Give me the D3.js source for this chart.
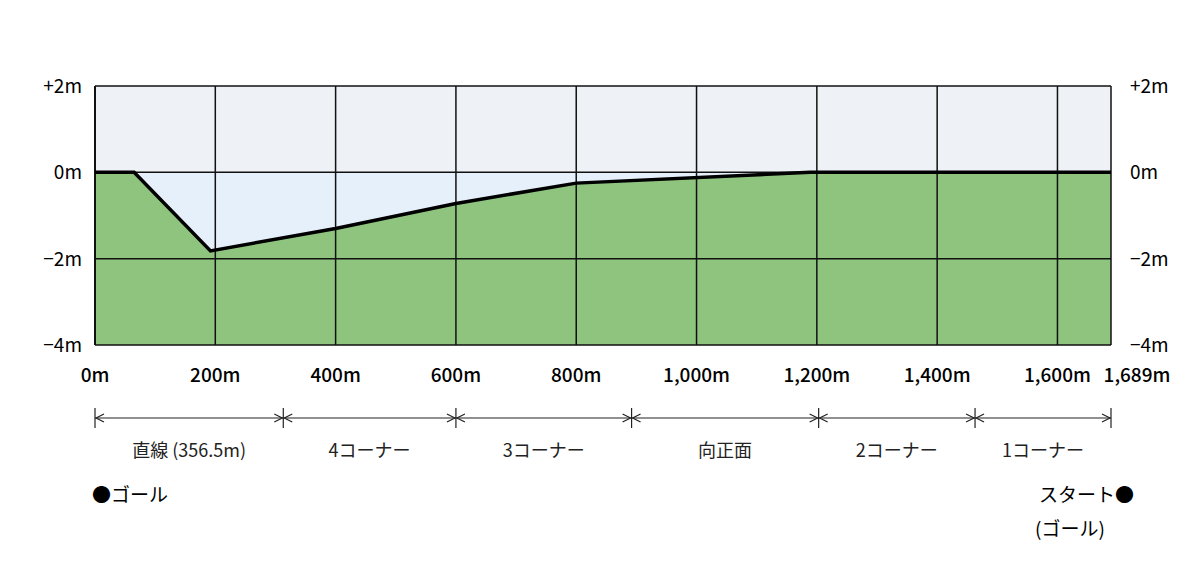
<!DOCTYPE html><html><head><meta charset="utf-8"><script src="https://cdn.jsdelivr.net/npm/d3@7"></script>
<style>body{margin:0;background:#fff}text{font-family:"Noto Sans CJK JP","Liberation Sans",sans-serif}</style></head><body><svg width="1200" height="587"></svg><script>
const profileDist=[0,65,192,400,600,800,1189,1689];
const profileElev=[0,0,-1.82,-1.3,-0.72,-0.25,0,0];
const xTicks=[0,200,400,600,800,1000,1200,1400,1600,1689];
const xTickLabels=["0m","200m","400m","600m","800m","1,000m","1,200m","1,400m","1,600m","1,689m"];
const yTicks=[2,0,-2,-4];
const yTickLabels=["+2m","0m","−2m","−4m"];
const sectionBounds=[0,313,600,892,1203,1463,1689];
const sectionLabels=["直線 (356.5m)","4コーナー","3コーナー","向正面","2コーナー","1コーナー"];
const svg=d3.select("svg");
const x=d3.scaleLinear().domain([0,1689]).range([95,1111]);
const y=d3.scaleLinear().domain([2,-4]).range([86,345]);
svg.append("rect").attr("x",95).attr("y",86).attr("width",1016).attr("height",259).attr("fill","#eef1f5");
svg.append("rect").attr("x",95).attr("y",y(0)).attr("width",1016).attr("height",y(-2)-y(0)).attr("fill","#e6f0fb");
const pts=profileDist.map((d,i)=>[d,profileElev[i]]);
svg.append("path").datum(pts).attr("fill","#8fc47f").attr("d",d3.area().x(d=>x(d[0])).y0(y(-4)).y1(d=>y(d[1])));
const g=svg.append("g");
xTicks.forEach(t=>g.append("line").attr("x1",x(t)).attr("x2",x(t)).attr("y1",86).attr("y2",345).attr("stroke","#111").attr("stroke-width",1.5));
yTicks.forEach(t=>g.append("line").attr("x1",95).attr("x2",1111).attr("y1",y(t)).attr("y2",y(t)).attr("stroke","#111").attr("stroke-width",1.5));
g.append("line").attr("x1",95).attr("x2",95).attr("y1",86).attr("y2",345).attr("stroke","#111").attr("stroke-width",2);
svg.append("path").datum(pts).attr("fill","none").attr("stroke","#000").attr("stroke-width",3.5).attr("d",d3.line().x(d=>x(d[0])).y(d=>y(d[1])));
xTicks.forEach((t,i)=>svg.append("text").attr("x",i==9?x(t)+26:x(t)).attr("y",382).attr("text-anchor","middle").attr("font-size",19).attr("font-family","Liberation Sans").attr("font-weight",500).text(xTickLabels[i]));
yTicks.forEach((t,i)=>{
 svg.append("text").attr("x",82).attr("y",y(t)+7).attr("text-anchor","end").attr("font-size",19).attr("font-family","Liberation Sans").text(yTickLabels[i]);
 svg.append("text").attr("x",1130).attr("y",y(t)+7).attr("font-size",19).attr("font-family","Liberation Sans").text(yTickLabels[i]);
});
const ay=418;
const bx=sectionBounds.map(x);
bx.forEach(b=>svg.append("line").attr("x1",b).attr("x2",b).attr("y1",ay-10).attr("y2",ay+10).attr("stroke","#222").attr("stroke-width",1.2));
for(let i=0;i<bx.length-1;i++){
 const a=bx[i],b=bx[i+1];
 svg.append("line").attr("x1",a).attr("x2",b).attr("y1",ay).attr("y2",ay).attr("stroke","#222").attr("stroke-width",1.2);
 svg.append("path").attr("d",`M${a+9},${ay-4}L${a+1},${ay}L${a+9},${ay+4}M${b-9},${ay-4}L${b-1},${ay}L${b-9},${ay+4}`).attr("fill","none").attr("stroke","#222").attr("stroke-width",1.2);
 svg.append("text").attr("x",(a+b)/2).attr("y",457).attr("text-anchor","middle").attr("font-size",18).attr("fill","#222").text(sectionLabels[i]);
}
svg.append("text").attr("x",92).attr("y",502).attr("font-size",19).text("●ゴール");
svg.append("text").attr("x",1134).attr("y",502).attr("text-anchor","end").attr("font-size",19).text("スタート●");
svg.append("text").attr("x",1070).attr("y",536).attr("text-anchor","middle").attr("font-size",19).text("(ゴール)");
</script></body></html>
